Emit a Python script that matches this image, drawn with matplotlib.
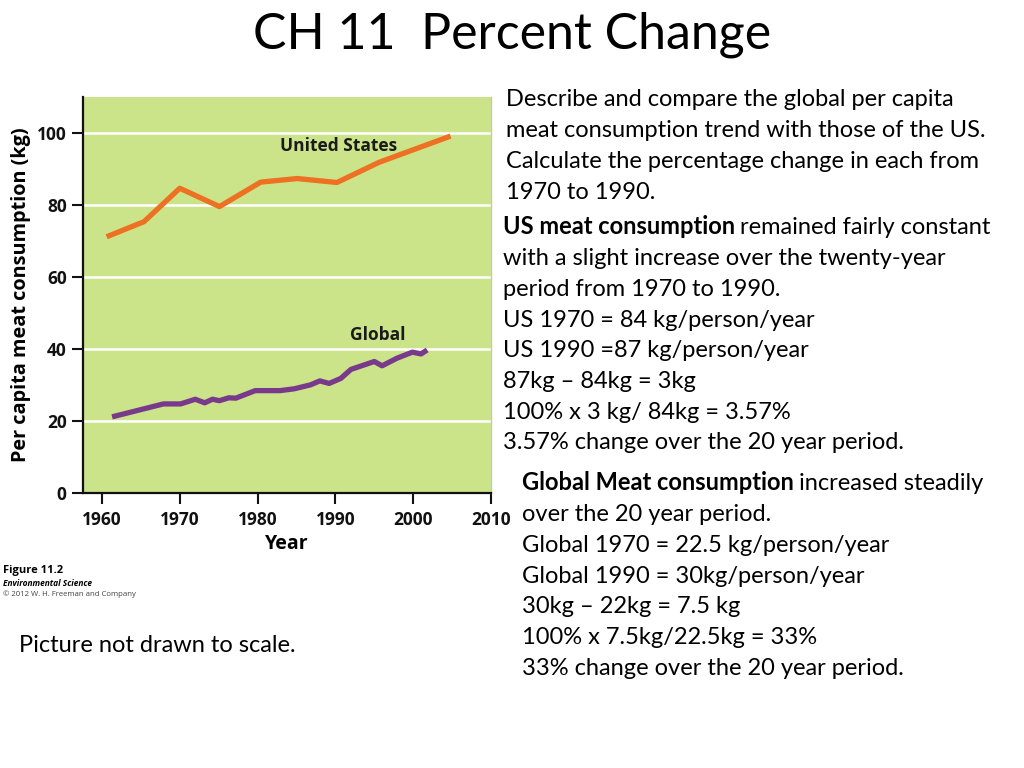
import matplotlib
matplotlib.use('Agg')
import matplotlib.pyplot as plt

# Chart data
us_years = [1960.6, 1965.4, 1970, 1975.1, 1980.4, 1985.1, 1990.2, 1995.6, 2000, 2004.8]
us_kg = [71.2, 75.4, 84.7, 79.6, 86.4, 87.4, 86.3, 91.9, 95.4, 99.2]

global_years = [1961.3, 1967.9, 1970.1, 1972, 1973.2, 1974.2, 1975.1, 1976.3, 1977.2,
                1979.7, 1982.9, 1984.7, 1986.8, 1988, 1989.2, 1990.7, 1992, 1995,
                1996, 1997.9, 1999.9, 2001, 2001.8]
global_kg = [21.1, 24.7, 24.7, 26.0, 25.0, 26.0, 25.6, 26.4, 26.3,
             28.4, 28.4, 28.9, 30.0, 31.1, 30.4, 31.8, 34.3, 36.5,
             35.3, 37.4, 39.1, 38.6, 39.7]

x_ticks = [1960, 1970, 1980, 1990, 2000, 2010]
y_ticks = [0, 20, 40, 60, 80, 100]

title = "CH 11  Percent Change"
question = ["Describe and compare the global per capita",
            "meat consumption trend with those of the US.",
            "Calculate the percentage change in each from",
            "1970 to 1990."]
us_lines = ["with a slight increase over the twenty-year",
            "period from 1970 to 1990.",
            "US 1970 = 84 kg/person/year",
            "US 1990 =87 kg/person/year",
            "87kg \u2013 84kg = 3kg",
            "100% x 3 kg/ 84kg = 3.57%",
            "3.57% change over the 20 year period."]
global_lines = ["over the 20 year period.",
                "Global 1970 = 22.5 kg/person/year",
                "Global 1990 = 30kg/person/year",
                "30kg \u2013 22kg = 7.5 kg",
                "100% x 7.5kg/22.5kg = 33%",
                "33% change over the 20 year period."]

W, H = 1024, 768
BODY = 'Lato'
CHART = 'Open Sans'
GREEN = '#cbe389'
ORANGE = '#ee7022'
PURPLE = '#7a3a8c'


def fx(px):
    return px / W


def fy(py):
    return 1 - py / H


fig = plt.figure(figsize=(W / 100, H / 100), dpi=100)
fig.patch.set_facecolor('white')

# chart axes, placed in pixel terms
left, right, top, bottom = 83.3, 491, 97.3, 492.7
ax = fig.add_axes([fx(left), fy(bottom), (right - left) / W, (bottom - top) / H])
ax.set_facecolor(GREEN)
ax.set_xlim(1957.6, 2010)
ax.set_ylim(0, 110)

for v in y_ticks[1:]:
    ax.axhline(v, color='white', lw=1.8, zorder=1)

ax.plot(us_years, us_kg, color=ORANGE, lw=3.8, solid_capstyle='butt', zorder=3)
ax.plot(global_years, global_kg, color=PURPLE, lw=3.8, solid_capstyle='butt', zorder=3)

ax.text(1990.4, 96.4, "United States", ha='center', va='center',
        family=CHART, fontweight='bold', fontsize=12.5, color='#1a1a1a')
ax.text(1995.4, 43.8, "Global", ha='center', va='center',
        family=CHART, fontweight='bold', fontsize=12.5, color='#1a1a1a')

ax.set_xticks(x_ticks)
ax.set_yticks(y_ticks)
for lab in ax.get_xticklabels() + ax.get_yticklabels():
    lab.set_family(CHART)
    lab.set_fontweight('bold')
    lab.set_fontsize(12.5)
ax.tick_params(axis='both', length=8, width=1.5, color='#111111', labelcolor='#111111')
ax.tick_params(axis='x', pad=5)
ax.tick_params(axis='y', pad=4)
ax.spines['top'].set_visible(False)
ax.spines['right'].set_color('#c0cfa0')
ax.spines['right'].set_linewidth(1)
ax.spines['left'].set_linewidth(1.6)
ax.spines['bottom'].set_linewidth(1.6)
ax.spines['left'].set_color('#111111')
ax.spines['bottom'].set_color('#111111')

ax.set_xlabel("Year", family=CHART, fontweight='bold', fontsize=14, labelpad=4)
ax.set_ylabel("Per capita meat consumption (kg)", family=CHART, fontweight='bold',
              fontsize=14.3, labelpad=4)

# figure credit
fig.text(fx(3), fy(571), "Figure 11.2", family=CHART, fontweight='bold', fontsize=8,
         va='center')
fig.text(fx(3), fy(583), "Environmental Science", family=CHART, fontweight='bold',
         style='italic', fontsize=6, va='center')
fig.text(fx(3), fy(594), "\u00a9 2012 W. H. Freeman and Company", family=CHART,
         fontsize=5.6, va='center', color='#444444')

# slide text
fig.text(0.5, fy(49), title, family=BODY, fontsize=36, ha='center', va='baseline')

LS = 30.7
BS = 17
for i, line in enumerate(question):
    fig.text(fx(506), fy(106.5 + LS * i), line, family=BODY, fontsize=BS, va='baseline')

renderer = fig.canvas.get_renderer()


def rich_first(x, y, bold, rest):
    t = fig.text(fx(x), fy(y), bold, family=BODY, fontsize=BS, fontweight='bold',
                 va='baseline')
    bb = t.get_window_extent(renderer)
    fig.text(fx(bb.x1 + 5), fy(y), rest, family=BODY, fontsize=BS, va='baseline')


rich_first(503, 234.5, "US meat consumption", "remained fairly constant")
for i, line in enumerate(us_lines):
    fig.text(fx(503), fy(234.5 + LS * (i + 1)), line, family=BODY, fontsize=BS,
             va='baseline')

rich_first(522, 490.5, "Global Meat consumption", "increased steadily")
for i, line in enumerate(global_lines):
    fig.text(fx(522), fy(490.5 + LS * (i + 1)), line, family=BODY, fontsize=BS,
             va='baseline')

fig.text(fx(19), fy(652.5), "Picture not drawn to scale.", family=BODY, fontsize=BS,
         va='baseline')

fig.savefig('out.png', dpi=100)
